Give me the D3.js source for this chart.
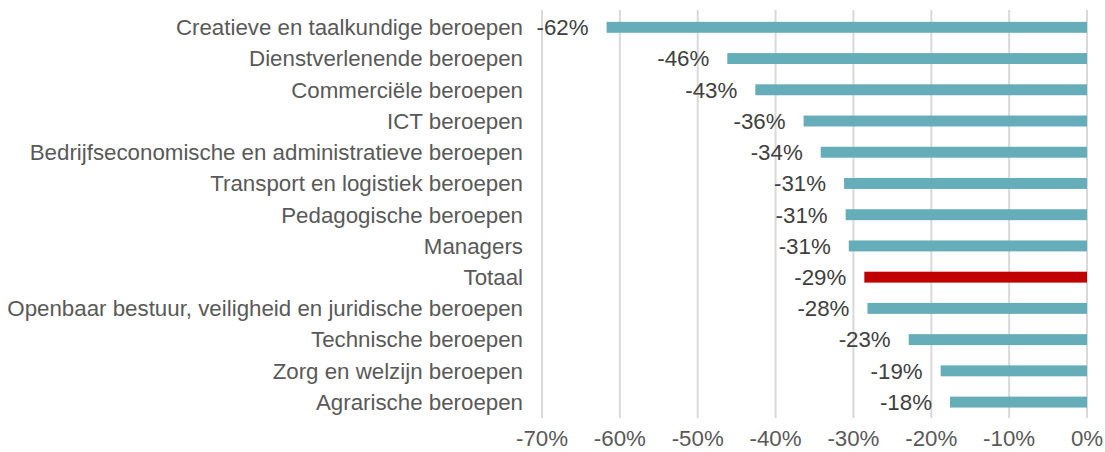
<!DOCTYPE html>
<html>
<head>
<meta charset="utf-8">
<script src="https://cdn.jsdelivr.net/npm/d3@7"></script>
<style>
  body { margin: 0; background: #fff; }
  svg text { font-family: "Liberation Sans", Arial, sans-serif; }
</style>
</head>
<body>
<div id="chart"></div>
<script>
// categories, top to bottom
var categories = [
  "Creatieve en taalkundige beroepen",
  "Dienstverlenende beroepen",
  "Commerciële beroepen",
  "ICT beroepen",
  "Bedrijfseconomische en administratieve beroepen",
  "Transport en logistiek beroepen",
  "Pedagogische beroepen",
  "Managers",
  "Totaal",
  "Openbaar bestuur, veiligheid en juridische beroepen",
  "Technische beroepen",
  "Zorg en welzijn beroepen",
  "Agrarische beroepen"
];
// change in percent
var values = [-61.7, -46.2, -42.6, -36.4, -34.2, -31.2, -31.0, -30.6, -28.6, -28.2, -22.9, -18.8, -17.6];
var valueLabels = ["-62%", "-46%", "-43%", "-36%", "-34%", "-31%", "-31%", "-31%", "-29%", "-28%", "-23%", "-19%", "-18%"];
var tickValues = [-70, -60, -50, -40, -30, -20, -10, 0];

var width = 1105;
var height = 452;
var barColor = "#65adb8";
var totalColor = "#c00000";
var fontSize = "22.3px";

var svg = d3.select("#chart").append("svg")
    .attr("width", width)
    .attr("height", height);

var x = d3.scaleLinear().domain([-70, 0]).range([542, 1087]);
var y = d3.scaleBand().domain(categories).range([11.7, 417.7]).paddingInner(0.65).paddingOuter(0.325);

// gridlines
svg.selectAll(".grid")
  .data(tickValues)
  .enter()
  .append("line")
    .attr("x1", function(d) { return x(d); })
    .attr("x2", function(d) { return x(d); })
    .attr("y1", 10)
    .attr("y2", 418)
    .attr("stroke", "#d9d9d9")
    .attr("stroke-width", 2);

// bars
svg.selectAll(".bar")
  .data(values)
  .enter()
  .append("rect")
    .attr("x", function(d) { return x(d); })
    .attr("y", function(d, i) { return y(categories[i]); })
    .attr("width", function(d) { return x(0) - x(d); })
    .attr("height", y.bandwidth())
    .attr("fill", function(d, i) { return categories[i] == "Totaal" ? totalColor : barColor; });

// value labels
svg.selectAll(".vlabel")
  .data(values)
  .enter()
  .append("text")
    .attr("x", function(d) { return x(d) - 18; })
    .attr("y", function(d, i) { return y(categories[i]) + y.bandwidth() / 2; })
    .attr("dy", "0.35em")
    .attr("text-anchor", "end")
    .attr("font-size", fontSize)
    .attr("fill", "#404040")
    .text(function(d, i) { return valueLabels[i]; });

// category labels
svg.selectAll(".clabel")
  .data(categories)
  .enter()
  .append("text")
    .attr("x", 523)
    .attr("y", function(d) { return y(d) + y.bandwidth() / 2; })
    .attr("dy", "0.35em")
    .attr("text-anchor", "end")
    .attr("font-size", fontSize)
    .attr("fill", "#595959")
    .text(function(d) { return d; });

// x axis tick labels
svg.selectAll(".tick")
  .data(tickValues)
  .enter()
  .append("text")
    .attr("x", function(d) { return x(d); })
    .attr("y", 446)
    .attr("text-anchor", "middle")
    .attr("font-size", fontSize)
    .attr("fill", "#595959")
    .text(function(d) { return d + "%"; });
</script>
</body>
</html>
